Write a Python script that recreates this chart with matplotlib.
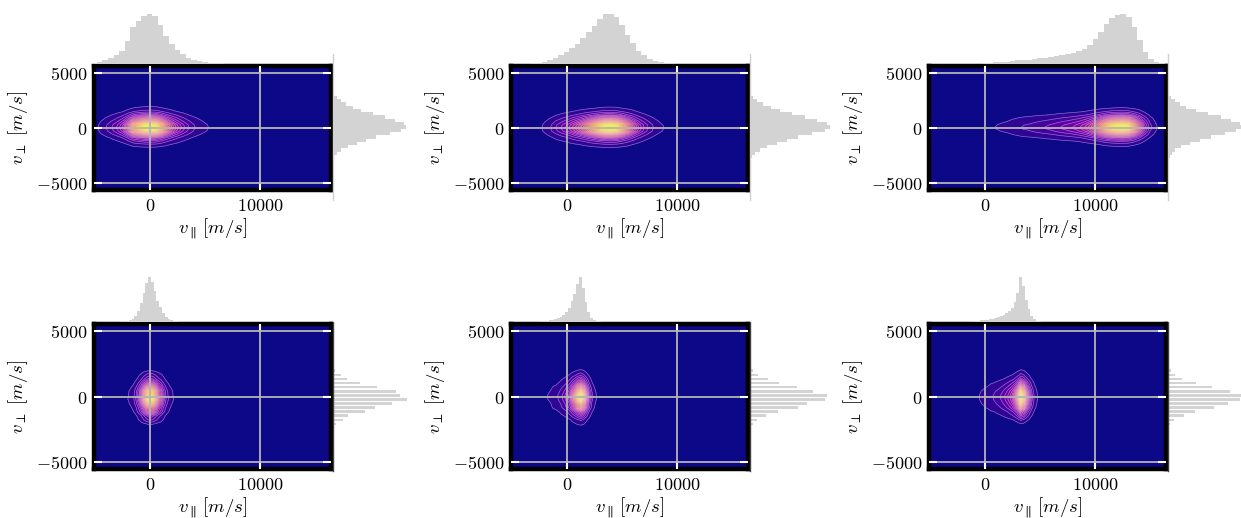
import numpy as np
import matplotlib
matplotlib.use("Agg")
import matplotlib.pyplot as plt

plt.rcParams["mathtext.fontset"] = "cm"
plt.rcParams["font.family"] = ["DejaVu Serif"]

# ---- data ---------------------------------------------------------------
# top row: parallel-velocity histogram (bin centres, width 500 m/s)
vpar_top = np.arange(-5000, 16001, 500)
par_top_1 = [2, 7, 12, 19, 28, 42, 72, 115, 133, 150, 157, 150, 122, 88, 62, 44,
             30, 20, 13, 9, 6, 4, 3, 2, 1, 1] + [0] * 17
par_top_2 = [0, 0, 0, 1, 2, 3, 7, 12, 20, 28, 37, 50, 64, 80, 100, 120, 140, 155,
             157, 148, 122, 92, 65, 42, 27, 17, 10, 6, 4, 2, 1] + [0] * 12
par_top_3 = [0] * 8 + [1, 1, 2, 4, 5, 6, 7, 9, 11, 13, 14, 16, 18, 20, 22, 25, 28,
                       31, 35, 40, 48, 60, 77, 100, 125, 143, 153, 157, 148, 115,
                       75, 38, 15, 6, 2]

# top row: perpendicular-velocity histogram (bin centres, width 300 m/s)
vperp_top = np.arange(-3000, 3001, 300)
perp_top_1 = [1, 4, 12, 25, 45, 72, 100, 130, 170, 205, 220, 212, 185, 155, 120,
              85, 60, 40, 25, 12, 3]
perp_top_2 = [2, 6, 14, 30, 52, 80, 110, 145, 185, 225, 240, 230, 200, 165, 125,
              90, 62, 40, 22, 10, 3]
perp_top_3 = [2, 5, 12, 22, 40, 65, 95, 130, 170, 205, 225, 215, 190, 160, 120,
              85, 55, 35, 20, 8, 3]

# bottom row: parallel-velocity histogram (bin centres, width 250 m/s)
vpar_bot = np.arange(-3000, 5251, 250)
par_bot_1 = [1, 1, 2, 3, 4, 6, 9, 18, 32, 55, 85, 115, 130, 118, 90, 62, 45, 26,
             14, 8, 5, 3, 2, 1, 1] + [0] * 9
par_bot_2 = [0, 0, 1, 2, 3, 4, 5, 7, 8, 11, 15, 20, 28, 40, 60, 82, 110, 130, 100,
             58, 28, 12, 6, 3, 2, 1] + [0] * 8
par_bot_3 = [0] * 6 + [1, 1, 2, 3, 4, 5, 6, 7, 9, 10, 12, 14, 17, 21, 26, 33, 42,
                       58, 85, 130, 105, 65, 38, 18, 8, 4, 2, 1]

# bottom row: perpendicular-velocity histogram (bin centres)
vperp_bot = [-2080, -1770, -1460, -1150, -840, -530, -220, 90, 400, 710, 1020,
             1330, 1640, 1950]
perp_bot_1 = [8, 29, 44, 95, 125, 176, 221, 200, 188, 131, 80, 41, 23, 7]
perp_bot_2 = [10, 20, 48, 83, 145, 172, 225, 232, 190, 140, 87, 53, 25, 10]
perp_bot_3 = [6, 19, 49, 82, 139, 181, 217, 220, 187, 133, 85, 43, 21, 9]

xticks = [0, 10000]
yticks = [-5000, 0, 5000]

W, H = 1241, 518
fig = plt.figure(figsize=(W / 100, H / 100), dpi=100)


def box(x0, y0, x1, y1):
    # pixel box (top-left origin) -> figure fraction
    return [x0 / W, 1 - y1 / H, (x1 - x0) / W, (y1 - y0) / H]


def density(ax, xc, yc, px, py, sharp):
    xc = np.asarray(xc, float)
    yc = np.asarray(yc, float)
    px = np.asarray(px, float) / max(px)
    py = (np.asarray(py, float) / max(py)) ** sharp
    dx = xc[1] - xc[0]
    dy = yc[1] - yc[0]
    xp = np.concatenate([[xc[0] - dx], xc, [xc[-1] + dx]])
    yp = np.concatenate([[yc[0] - dy], yc, [yc[-1] + dy]])
    z = np.zeros((len(yp), len(xp)))
    z[1:-1, 1:-1] = np.outer(py, px)
    levels = np.linspace(0.03, 1.0001, 22)
    ax.contourf(xp, yp, z, levels=levels, cmap="plasma", vmin=0, vmax=0.92)
    ax.contour(xp, yp, z, levels=levels, colors="#e6d0ff", linewidths=0.5,
               alpha=0.5)


def panel(x0, y0, y1, ylim, vpar, par, vperp, perp, top_row):
    x1 = x0 + 237
    ax = fig.add_axes(box(x0, y0, x1, y1))
    ax.set_facecolor("#0d0887")
    density(ax, vpar, vperp, par, perp, 2.4 if top_row else 1.0)
    ax.set_xlim(-5100, 16450)
    ax.set_ylim(-ylim, ylim)
    ax.set_xticks(xticks)
    ax.set_xticklabels([f"${t}$" for t in xticks])
    ax.set_yticks(yticks)
    ax.set_yticklabels([f"${t}$" for t in yticks])
    ax.tick_params(direction="in", color="white", length=6, width=1.5,
                   top=True, right=True, labelsize=13, pad=5)
    ax.grid(True, color="#b5b5b5", linewidth=1.3)
    ax.set_axisbelow(False)
    for s in ax.spines.values():
        s.set_linewidth(3.2)
        s.set_color("black")
    ax.set_xlabel(r"$v_\parallel\,[m/s]$", fontsize=13.5, labelpad=1)
    ax.set_ylabel(r"$v_\perp\ [m/s]$", fontsize=13.5, labelpad=4)

    # top marginal
    hist_top = y0 - 58 if top_row else y0 - 50
    axt = fig.add_axes(box(x0 - 2, hist_top, x1 + 2, y0 - 2))
    axt.bar(vpar, par, width=vpar[1] - vpar[0], color="lightgray", linewidth=0)
    axt.set_xlim(-5100 - 90, 16450 + 90)
    axt.set_ylim(0, 175 if top_row else 140)
    axt.axis("off")

    # right marginal
    if top_row:
        axr = fig.add_axes(box(x1 + 2, y0 - 12, x1 + 82, y1 + 10))
        scale = (y1 - y0 + 22) / (y1 - y0)
        axr.barh(vperp, perp, height=300, color="lightgray", linewidth=0)
        axr.spines["left"].set_color("#d0d0d0")
        axr.spines["left"].set_linewidth(1)
    else:
        axr = fig.add_axes(box(x1 + 2, y0 - 2, x1 + 82, y1 + 2))
        scale = (y1 - y0 + 4) / (y1 - y0)
        axr.barh(vperp, perp, height=200, color="lightgray", linewidth=0)
        axr.spines["left"].set_color("#404040")
        axr.spines["left"].set_linestyle((0, (1, 1)))
        axr.spines["left"].set_linewidth(1)
    axr.set_ylim(-ylim * scale, ylim * scale)
    axr.set_xlim(0, 240)
    for side in ["top", "right", "bottom"]:
        axr.spines[side].set_visible(False)
    axr.set_xticks([])
    axr.set_yticks([])
    axr.patch.set_alpha(0)


lefts = [94, 511, 929]
tops_par = [par_top_1, par_top_2, par_top_3]
tops_perp = [perp_top_1, perp_top_2, perp_top_3]
bots_par = [par_bot_1, par_bot_2, par_bot_3]
bots_perp = [perp_bot_1, perp_bot_2, perp_bot_3]

for i in range(3):
    panel(lefts[i], 66, 190, 5636, vpar_top, tops_par[i],
          vperp_top, tops_perp[i], True)
    panel(lefts[i], 324, 469, 5500, vpar_bot, bots_par[i],
          vperp_bot, bots_perp[i], False)

fig.savefig("out.png", dpi=100)
